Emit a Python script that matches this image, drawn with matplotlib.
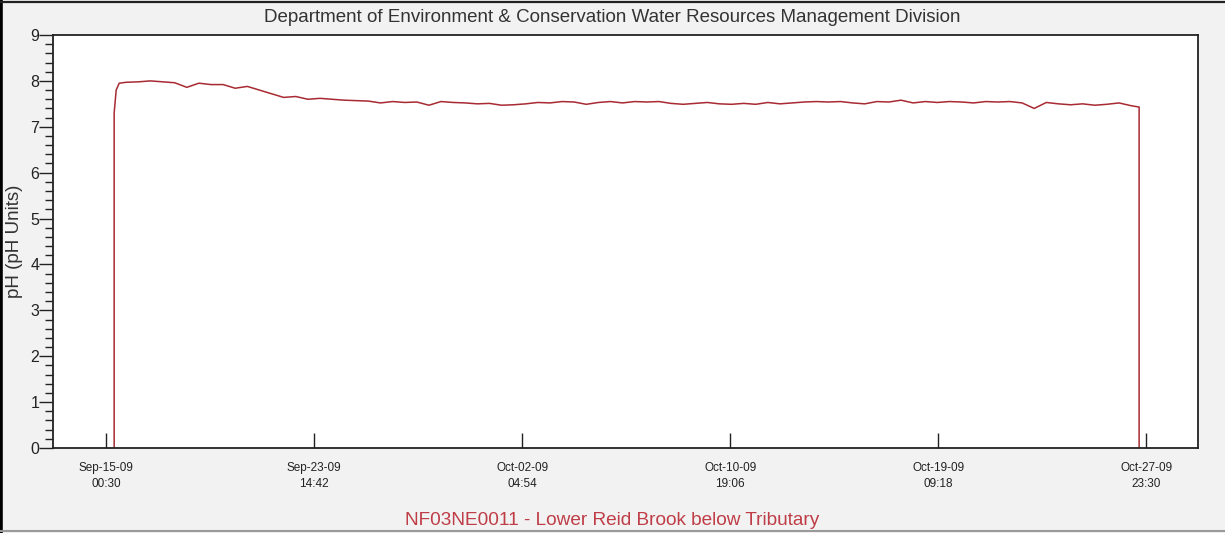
import numpy as np
import pandas as pd
import matplotlib
matplotlib.use("Agg")
import matplotlib.pyplot as plt
from matplotlib.lines import Line2D
from matplotlib.ticker import MultipleLocator

# ---- data ----
start = pd.Timestamp("2009-09-15 08:30")

# logger switch-on: hours after start, pH
rise_hours = [0, 0, 2, 5]
rise_ph = [0.0, 7.30, 7.80, 7.95]

# 12-hourly readings from start + 12h
ph_12h = [7.97, 7.98, 8.00, 7.98, 7.96, 7.86, 7.95, 7.92, 7.92, 7.84,
          7.88, 7.80, 7.72, 7.64, 7.66, 7.60, 7.62, 7.60, 7.58, 7.57,
          7.56, 7.52, 7.55, 7.53, 7.54, 7.47, 7.55, 7.53, 7.52, 7.50,
          7.51, 7.47, 7.48, 7.50, 7.53, 7.52, 7.55, 7.54, 7.49, 7.53,
          7.55, 7.52, 7.55, 7.54, 7.55, 7.51, 7.49, 7.51, 7.53, 7.50,
          7.49, 7.51, 7.49, 7.53, 7.50, 7.52, 7.54, 7.55, 7.54, 7.55,
          7.52, 7.50, 7.55, 7.54, 7.58, 7.52, 7.55, 7.53, 7.55, 7.54,
          7.52, 7.55, 7.54, 7.55, 7.52, 7.40, 7.53, 7.50, 7.48, 7.50,
          7.47, 7.49, 7.52, 7.46]

# logger removal
end_hours = [1016, 1016]
end_ph = [7.43, 0.0]

tick_labels = ["Sep-15-09\n00:30", "Sep-23-09\n14:42", "Oct-02-09\n04:54",
               "Oct-10-09\n19:06", "Oct-19-09\n09:18", "Oct-27-09\n23:30"]
tick_times = ["2009-09-15 00:30", "2009-09-23 14:42", "2009-10-02 04:54",
              "2009-10-10 19:06", "2009-10-19 09:18", "2009-10-27 23:30"]

title = "Department of Environment & Conservation Water Resources Management Division"
station = "NF03NE0011 - Lower Reid Brook below Tributary"

# ---- build series ----
hours = rise_hours + [12 * (i + 1) for i in range(len(ph_12h))] + end_hours
values = rise_ph + ph_12h + end_ph
times = start + pd.to_timedelta(hours, unit="h")

plt.rcParams["font.family"] = ["Liberation Sans", "DejaVu Sans"]

fig = plt.figure(figsize=(12.25, 5.33), dpi=100, facecolor="#f2f2f2")
ax = fig.add_axes([0.0433, 0.1595, 0.9347, 0.7748])
ax.set_facecolor("white")

ax.plot(times, values, color="#a82a32", linewidth=1.1)

ax.set_ylim(0, 9)
ax.yaxis.set_major_locator(MultipleLocator(1))
ax.yaxis.set_minor_locator(MultipleLocator(0.2))
ax.tick_params(axis="y", which="major", direction="out", length=10, width=1,
               labelsize=11.5, pad=0, colors="#222222")
ax.tick_params(axis="y", which="minor", direction="out", length=6, width=1,
               colors="#222222")

ax.set_xlim(pd.Timestamp("2009-09-12 19:55"), pd.Timestamp("2009-10-30 02:55"))
ax.set_xticks(pd.to_datetime(tick_times))
ax.set_xticklabels(tick_labels, fontsize=8.5, linespacing=1.45)
ax.tick_params(axis="x", direction="in", length=11, width=1, pad=10,
               colors="#222222")
ax.xaxis.set_minor_locator(plt.NullLocator())

for s in ax.spines.values():
    s.set_linewidth(1.3)
    s.set_color("#222222")

ax.set_ylabel("pH (pH Units)", fontsize=13.5, color="#333333")
ax.yaxis.set_label_coords(-0.0265, 0.5)

fig.text(0.5, 0.967, title, ha="center", va="center", fontsize=13.5,
         color="#333333")
fig.text(0.5, 0.024, station, ha="center", va="center", fontsize=13.7,
         color="#bf3d47")

# window frame: heavy left edge, dark top, grey bottom
fig.add_artist(Line2D([0.0012, 0.0012], [0, 1], transform=fig.transFigure,
                      color="#000000", linewidth=2.6))
fig.add_artist(Line2D([0, 1], [0.997, 0.997], transform=fig.transFigure,
                      color="#222222", linewidth=1.6))
fig.add_artist(Line2D([0, 1], [0.004, 0.004], transform=fig.transFigure,
                      color="#9a9a9a", linewidth=1.5))

fig.savefig("out.png", dpi=100, facecolor=fig.get_facecolor())
